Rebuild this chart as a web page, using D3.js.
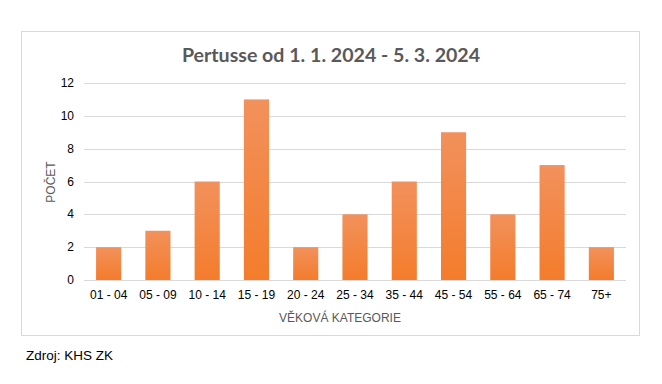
<!DOCTYPE html>
<html>
<head>
<meta charset="utf-8">
<script src="https://cdn.jsdelivr.net/npm/d3@7"></script>
<style>
  body { margin: 0; background: #fff; }
  text { font-family: "Liberation Sans", Arial, sans-serif; }
</style>
</head>
<body>
<div id="chart"></div>
<script>
// data
const categories = ['01 - 04', '05 - 09', '10 - 14', '15 - 19', '20 - 24', '25 - 34', '35 - 44', '45 - 54', '55 - 64', '65 - 74', '75+'];
const counts = [2, 3, 6, 11, 2, 4, 6, 9, 4, 7, 2];
const yTicks = [0, 2, 4, 6, 8, 10, 12];

const W = 662, H = 384;
const plot = { left: 84, right: 626, top: 83, bottom: 280 };

const svg = d3.select('#chart')
  .append('svg')
  .attr('width', W)
  .attr('height', H);

// bar gradient
const grad = svg.append('defs')
  .append('linearGradient')
  .attr('id', 'barGrad')
  .attr('x1', 0).attr('y1', 0).attr('x2', 0).attr('y2', 1);
grad.append('stop').attr('offset', '0%').attr('stop-color', '#f2915c');
grad.append('stop').attr('offset', '100%').attr('stop-color', '#f47c2c');

// chart frame
svg.append('rect')
  .attr('x', 21.5).attr('y', 31.5)
  .attr('width', 618).attr('height', 304)
  .attr('fill', '#fff')
  .attr('stroke', '#d9d9d9');

const x = d3.scaleBand()
  .domain(categories)
  .range([plot.left, plot.right])
  .paddingInner(0.49)
  .paddingOuter(0.245);

const y = d3.scaleLinear()
  .domain([0, 12])
  .range([plot.bottom, plot.top]);

// gridlines
svg.append('g')
  .selectAll('line')
  .data(yTicks)
  .enter()
  .append('line')
  .attr('x1', plot.left)
  .attr('x2', plot.right)
  .attr('y1', d => Math.round(y(d)) + 0.5)
  .attr('y2', d => Math.round(y(d)) + 0.5)
  .attr('stroke', '#d9d9d9');

// y tick labels
svg.append('g')
  .selectAll('text')
  .data(yTicks)
  .enter()
  .append('text')
  .attr('x', 74)
  .attr('y', d => y(d) + 4)
  .attr('text-anchor', 'end')
  .attr('font-size', 12)
  .attr('fill', '#000')
  .text(d => d);

// bars
svg.append('g')
  .selectAll('rect')
  .data(counts)
  .enter()
  .append('rect')
  .attr('x', (d, i) => x(categories[i]))
  .attr('y', d => y(d))
  .attr('width', x.bandwidth())
  .attr('height', d => y(0) - y(d))
  .attr('fill', 'url(#barGrad)');

// x tick labels
svg.append('g')
  .selectAll('text')
  .data(categories)
  .enter()
  .append('text')
  .attr('x', d => x(d) + x.bandwidth() / 2)
  .attr('y', 299)
  .attr('text-anchor', 'middle')
  .attr('font-size', 12)
  .attr('fill', '#000')
  .text(d => d);

// title
svg.append('text')
  .attr('x', 331)
  .attr('y', 62)
  .attr('text-anchor', 'middle')
  .style('font-family', 'Lato, "Open Sans", sans-serif')
  .attr('font-weight', 'bold')
  .attr('font-size', 19.6)
  .attr('fill', '#595959')
  .text('Pertusse od 1. 1. 2024 - 5. 3. 2024');

// axis titles
svg.append('text')
  .attr('x', 340)
  .attr('y', 322)
  .attr('text-anchor', 'middle')
  .attr('font-size', 12)
  .attr('fill', '#595959')
  .text('VĚKOVÁ KATEGORIE');

svg.append('text')
  .attr('transform', 'translate(55,182) rotate(-90)')
  .attr('text-anchor', 'middle')
  .attr('font-size', 12)
  .attr('fill', '#595959')
  .text('POČET');

// source note
svg.append('text')
  .attr('x', 26)
  .attr('y', 360)
  .attr('font-size', 13.5)
  .attr('fill', '#000')
  .text('Zdroj: KHS ZK');
</script>
</body>
</html>
